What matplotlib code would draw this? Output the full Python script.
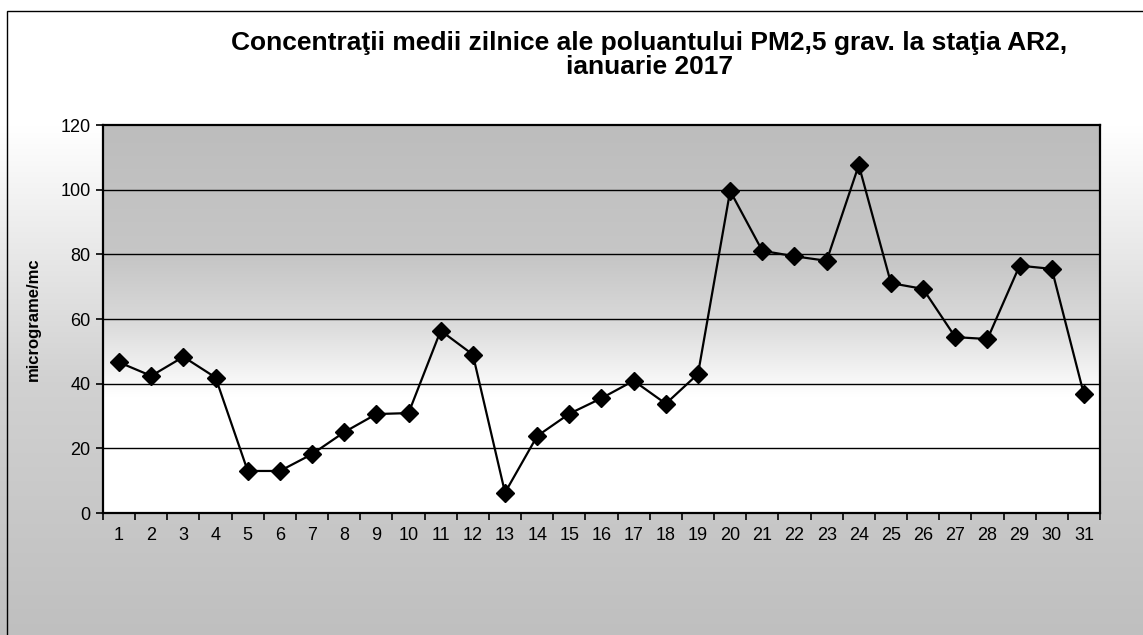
import matplotlib
matplotlib.use("Agg")
import matplotlib.pyplot as plt
import numpy as np
from matplotlib.patches import Rectangle

days = list(range(1, 32))
pm25 = [46.6, 42.4, 48.3, 41.9, 13.0, 13.0, 18.2, 25.0, 30.6, 30.9,
        56.4, 49.0, 6.3, 23.8, 30.7, 35.5, 40.9, 33.8, 43.0, 99.6,
        81.1, 79.4, 78.0, 107.6, 71.1, 69.3, 54.4, 53.8, 76.5, 75.5, 36.7]
y_ticks = [0, 20, 40, 60, 80, 100, 120]

title = "Concentraţii medii zilnice ale poluantului PM2,5 grav. la staţia AR2,\nianuarie 2017"
y_label = "micrograme/mc"

plt.rcParams["font.family"] = ["Liberation Sans", "DejaVu Sans"]


def grey_ramp(levels, n=400):
    # vertical grey ramp through (position, grey) pairs, position 0 = top
    t = np.linspace(0, 1, n)
    pos, val = zip(*levels)
    g = np.interp(t, pos, val)
    return np.repeat(g.reshape(-1, 1, 1), 3, axis=2)


fig = plt.figure(figsize=(11.43, 6.35), dpi=100)

# figure background: white at the top fading to grey at the bottom
bg = fig.add_axes([0, 0, 1, 1], zorder=-10)
bg.imshow(grey_ramp([(0, 1.0), (0.2, 1.0), (0.6, 0.82), (1, 0.75)]), aspect="auto",
          extent=[0, 1, 0, 1], origin="upper")
bg.add_patch(Rectangle((7 / 1143, -0.01), 1.0, 1 - 11 / 635 + 0.01,
                       fill=False, edgecolor="black", linewidth=1.0,
                       transform=bg.transAxes))
bg.set_xlim(0, 1)
bg.set_ylim(0, 1)
bg.axis("off")

ax = fig.add_axes([103 / 1143, 1 - 513 / 635, (1100 - 103) / 1143, (513 - 125) / 635])

# plot area: grey at the top fading to white toward the bottom
ramp = grey_ramp([(0, 0.74), (0.35, 0.78), (0.5, 0.85), (0.7, 1.0), (1, 1.0)])
ax.imshow(ramp, aspect="auto", extent=[0.5, 31.5, 0, 120], origin="upper", zorder=0)
ax.set_xlim(0.5, 31.5)
ax.set_ylim(0, 120)

for y in y_ticks[1:-1]:
    ax.axhline(y, color="black", linewidth=1.0, zorder=1)

ax.plot(days, pm25, color="black", linewidth=1.6, marker="D",
        markersize=9, markerfacecolor="black", zorder=3)

ax.set_yticks(y_ticks)
ax.set_xticks(np.arange(0.5, 32, 1))
ax.set_xticklabels([])
ax.set_xticks(days, minor=True)
ax.set_xticklabels([str(d) for d in days], minor=True)
ax.tick_params(axis="x", which="major", direction="out", length=5, width=1.2)
ax.tick_params(axis="x", which="minor", length=0, labelsize=13, pad=10)
ax.tick_params(axis="y", direction="out", length=5, width=1.2, labelsize=13, pad=4)

for side in ["top", "right", "left", "bottom"]:
    ax.spines[side].set_linewidth(1.6)

ax.set_ylabel(y_label, fontsize=12, fontweight="bold", labelpad=14)
fig.text(649 / 1143, 1 - 55 / 635, title, ha="center", va="center",
         fontsize=19, fontweight="bold", linespacing=0.98)

fig.savefig("out.png", dpi=100)
